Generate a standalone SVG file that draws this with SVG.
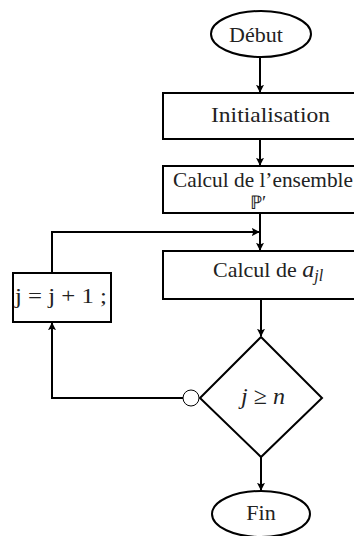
<svg xmlns="http://www.w3.org/2000/svg" width="354" height="536" viewBox="0 0 354 536">
<style>
.n{fill:#fff;stroke:#000;stroke-width:2}
.t{font-family:"Liberation Serif","Times New Roman",serif;font-size:21px;fill:#222}
.c{fill:none;stroke:#000;stroke-width:2}
</style>
<defs>
<marker id="a" viewBox="0 0 10 10" refX="9" refY="5" markerWidth="4" markerHeight="4" orient="auto" markerUnits="strokeWidth">
<path d="M0,0 L10,5 L0,10 L2,5 Z" fill="#000"/>
</marker>
</defs>
<rect width="354" height="536" fill="#fff"/>
<g id="connectors">
<line class="c" x1="260" y1="57" x2="260" y2="92" marker-end="url(#a)"/>
<line class="c" x1="260" y1="139" x2="260" y2="165" marker-end="url(#a)"/>
<line class="c" x1="260" y1="213" x2="260" y2="250" marker-end="url(#a)"/>
<polyline class="c" points="52,273 52,232 259,232" marker-end="url(#a)"/>
<line class="c" x1="261" y1="299" x2="261" y2="336" marker-end="url(#a)"/>
<line class="c" x1="261" y1="457" x2="261" y2="490" marker-end="url(#a)"/>
<polyline class="c" points="183,398 52,398 52,323" marker-end="url(#a)"/>
</g>
<g id="debut">
<ellipse class="n" cx="261" cy="34" rx="50" ry="23"/>
<text class="t" x="256" y="42" text-anchor="middle" style="font-size:22px">Début</text>
</g>
<g id="init">
<rect class="n" x="163" y="93" width="200" height="46"/>
<text class="t" x="211" y="122" textLength="119" lengthAdjust="spacingAndGlyphs">Initialisation</text>
</g>
<g id="ensemble">
<rect class="n" x="163" y="166" width="200" height="47"/>
<text class="t" x="173" y="187" textLength="180" lengthAdjust="spacingAndGlyphs">Calcul de l’ensemble</text>
<text class="t" x="258" y="209" text-anchor="middle" style="font-size:19px">ℙ′</text>
</g>
<g id="calcul">
<rect class="n" x="163" y="251" width="200" height="48"/>
<text class="t" x="213" y="277" style="font-size:22px">Calcul de <tspan font-style="italic" style="font-size:24px">a</tspan><tspan font-style="italic" style="font-size:16px" dy="4">jl</tspan></text>
</g>
<g id="incr">
<rect class="n" x="13" y="273" width="98" height="49"/>
<text class="t" x="15" y="303" textLength="92" lengthAdjust="spacingAndGlyphs">j = j + 1 ;</text>
</g>
<g id="test">
<polygon class="n" points="261,337 322,398 261,457 200,398"/>
<text class="t" x="263" y="404" text-anchor="middle" style="font-size:24px"><tspan font-style="italic">j</tspan> ≥ <tspan font-style="italic">n</tspan></text>
<circle cx="191" cy="398" r="8" fill="#fff" stroke="#000" stroke-width="1"/>
</g>
<g id="fin">
<ellipse class="n" cx="261" cy="514" rx="49" ry="23"/>
<text class="t" x="261" y="520" text-anchor="middle" style="font-size:22px">Fin</text>
</g>
</svg>
